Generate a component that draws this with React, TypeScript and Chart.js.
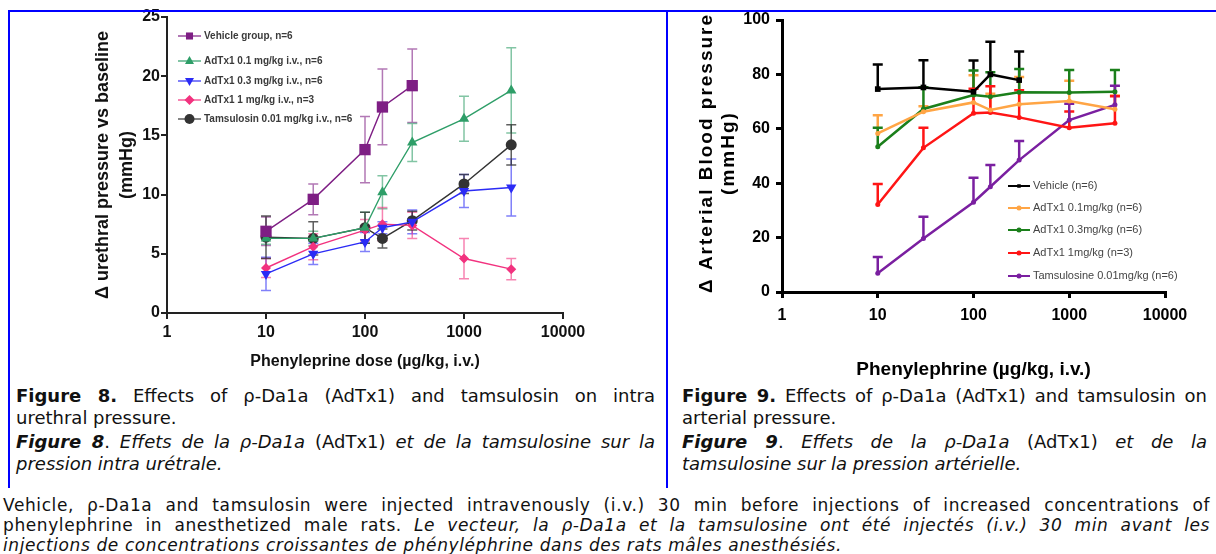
import React, { useEffect, useRef } from "react";
import { Chart, registerables } from "chart.js";
Chart.register(...registerables);

const FONT = "'Liberation Sans', Arial, Helvetica, sans-serif";
const TEXT_FONT = "'DejaVu Sans', Verdana, sans-serif";

// ---------- shared x data ----------
const doses = [10, 30, 100, 150, 300, 1000, 3000];
const xTickValues = [1, 10, 100, 1000, 10000];

// ---------- Figure 8 (urethral pressure) ----------
const fig8YTicks = [0, 5, 10, 15, 20, 25];
const fig8Labels = [
  "Vehicle group, n=6",
  "AdTx1 0.1 mg/kg i.v., n=6",
  "AdTx1 0.3 mg/kg i.v., n=6",
  "AdTx1 1 mg/kg i.v., n=3",
  "Tamsulosin 0.01 mg/kg i.v., n=6",
];
const fig8Vehicle = [6.9, 9.6, 13.8, 17.4, 19.2];
const fig8VehicleErr = [1.2, 1.3, 2.8, 3.2, 3.1];
const fig8AdTx01 = [6.3, 6.3, 7.2, 10.2, 14.4, 16.4, 18.8];
const fig8AdTx01Err = [0.5, 0.6, 1.3, 1.4, 1.6, 1.9, 3.6];
const fig8AdTx03 = [3.3, 5.0, 6.0, 7.2, 7.7, 10.3, 10.6];
const fig8AdTx03Err = [1.4, 0.9, 0.8, 0.5, 1.0, 1.4, 2.4];
const fig8AdTx1 = [3.8, 5.6, 7.0, 7.5, 7.4, 4.6, 3.7];
const fig8AdTx1Err = [0.8, 1.1, 0.9, 1.4, 1.1, 1.7, 0.9];
const fig8Tams = [6.4, 6.3, 7.2, 6.3, 7.8, 10.9, 14.2];
const fig8TamsErr = [1.8, 1.4, 1.3, 0.8, 0.8, 0.8, 1.7];
const fig8XTitle = "Phenyleprine dose (µg/kg, i.v.)";
const fig8YTitle = ["Δ urethral pressure vs baseline", "(mmHg)"];

// ---------- Figure 9 (arterial pressure) ----------
const fig9YTicks = [0, 20, 40, 60, 80, 100];
const fig9Labels = [
  "Vehicle (n=6)",
  "AdTx1 0.1mg/kg (n=6)",
  "AdTx1 0.3mg/kg (n=6)",
  "AdTx1 1mg/kg (n=3)",
  "Tamsulosine 0.01mg/kg (n=6)",
];
const fig9Vehicle = [74.6, 75.2, 73.6, 80.0, 77.9];
const fig9VehicleErr = [9, 10, 11.5, 12, 10.5];
const fig9AdTx01 = [58.3, 66.3, 69.7, 66.9, 69.0, 70.2, 67.2];
const fig9AdTx01Err = [6.7, 2, 10, 6, 10, 7.5, 5];
const fig9AdTx03 = [53.4, 67.3, 72.4, 71.8, 73.4, 73.3, 73.6];
const fig9AdTx03Err = [7, 8, 9, 9, 8.6, 8.3, 8];
const fig9AdTx1 = [32.2, 53.0, 65.7, 66.0, 64.2, 60.4, 62.0];
const fig9AdTx1Err = [7.5, 7.4, 9, 9.6, 10, 6, 10];
const fig9Tams = [6.9, 19.7, 33.0, 38.7, 48.5, 63.2, 68.8];
const fig9TamsErr = [6, 8, 9, 8, 7, 6, 7];
const fig9XTitle = "Phenylephrine (µg/kg, i.v.)";
const fig9YTitle = ["Δ Arterial Blood pressure", "(mmHg)"];

// ---------- helpers ----------
function drawMarker(ctx: CanvasRenderingContext2D, style: string, x: number, y: number, r: number, color: string) {
  ctx.save();
  ctx.fillStyle = color;
  ctx.beginPath();
  if (style === "rect") {
    const s = r * Math.SQRT1_2;
    ctx.rect(x - s, y - s, 2 * s, 2 * s);
  } else if (style === "triangle" || style === "triangleDown") {
    const d = style === "triangle" ? 1 : -1;
    ctx.moveTo(x, y - d * r);
    ctx.lineTo(x + r * 0.9, y + d * r * 0.6);
    ctx.lineTo(x - r * 0.9, y + d * r * 0.6);
    ctx.closePath();
  } else if (style === "rectRot") {
    ctx.moveTo(x, y - r);
    ctx.lineTo(x + r, y);
    ctx.lineTo(x, y + r);
    ctx.lineTo(x - r, y);
    ctx.closePath();
  } else {
    ctx.arc(x, y, r, 0, Math.PI * 2);
  }
  ctx.fill();
  ctx.restore();
}

function makeDataset(opts: any) {
  const { label, ys, errs, color, errColor, pointStyle, radius, rotation, lineWidth, errWidth, capHalf, oneSided, legendMarker } = opts;
  return {
    label,
    data: ys.map((v: number, i: number) => ({ x: doses[i], y: v })),
    borderColor: color,
    backgroundColor: color,
    pointBackgroundColor: color,
    pointBorderColor: color,
    pointBorderWidth: 0,
    borderWidth: lineWidth,
    pointStyle,
    pointRadius: radius,
    pointRotation: rotation || 0,
    tension: 0,
    fill: false,
    errors: errs,
    errColor,
    errWidth,
    capHalf,
    oneSided,
    legendMarker,
  };
}

const errorBarPlugin = {
  id: "errorBars",
  beforeDatasetsDraw(chart: any) {
    const ctx = chart.ctx;
    const xS = chart.scales.x;
    const yS = chart.scales.y;
    chart.data.datasets.forEach((ds: any) => {
      if (!ds.errors) return;
      ctx.save();
      ctx.strokeStyle = ds.errColor;
      ctx.lineWidth = ds.errWidth;
      ds.data.forEach((p: any, j: number) => {
        const e = ds.errors[j];
        if (e == null) return;
        const x = xS.getPixelForValue(p.x);
        const yTop = yS.getPixelForValue(p.y + e);
        const yBot = yS.getPixelForValue(ds.oneSided ? p.y : p.y - e);
        ctx.beginPath();
        ctx.moveTo(x, yTop);
        ctx.lineTo(x, yBot);
        ctx.moveTo(x - ds.capHalf, yTop);
        ctx.lineTo(x + ds.capHalf, yTop);
        if (!ds.oneSided) {
          ctx.moveTo(x - ds.capHalf, yBot);
          ctx.lineTo(x + ds.capHalf, yBot);
        }
        ctx.stroke();
      });
      ctx.restore();
    });
  },
};

function insideLegend(cfg: any) {
  return {
    id: "insideLegend",
    afterDraw(chart: any) {
      const { ctx, chartArea } = chart;
      ctx.save();
      chart.data.datasets.forEach((ds: any, i: number) => {
        const y = chartArea.top + cfg.rows[i];
        const x0 = chartArea.left + cfg.lineStart;
        const x1 = chartArea.left + cfg.lineEnd;
        ctx.strokeStyle = ds.borderColor;
        ctx.lineWidth = cfg.lineWidth;
        ctx.beginPath();
        ctx.moveTo(x0, y);
        ctx.lineTo(x1, y);
        ctx.stroke();
        drawMarker(ctx, ds.legendMarker, (x0 + x1) / 2, y, cfg.markerSize, ds.borderColor);
        ctx.fillStyle = cfg.textColor;
        ctx.font = cfg.font;
        ctx.textBaseline = "middle";
        ctx.textAlign = "left";
        ctx.fillText(ds.label, chartArea.left + cfg.textX, y);
      });
      ctx.restore();
    },
  };
}

const spacedYTitle = {
  id: "spacedYTitle",
  afterDraw(chart: any) {
    const { ctx, chartArea } = chart;
    ctx.save();
    ctx.translate(40, (chartArea.top + chartArea.bottom) / 2 - 3);
    ctx.rotate(-Math.PI / 2);
    ctx.font = `bold 19px ${FONT}`;
    (ctx as any).letterSpacing = "2px";
    ctx.fillStyle = "#000";
    ctx.textAlign = "center";
    ctx.textBaseline = "middle";
    ctx.fillText(fig9YTitle[0], 0, 0);
    ctx.fillText(fig9YTitle[1], 0, 22);
    ctx.restore();
  },
};

function fixedTicks(values: number[]) {
  return (scale: any) => {
    scale.ticks = values.map((v) => ({ value: v }));
  };
}

// ---------- chart builders ----------
function makeFig8(canvas: HTMLCanvasElement) {
  const lw = 1.4;
  const datasets = [
    makeDataset({ label: fig8Labels[0], ys: fig8Vehicle, errs: fig8VehicleErr, color: "#7E1E84", errColor: "rgba(126,30,132,0.6)", pointStyle: "rect", radius: 8, lineWidth: lw, errWidth: 1.5, capHalf: 5, legendMarker: "rect" }),
    makeDataset({ label: fig8Labels[1], ys: fig8AdTx01, errs: fig8AdTx01Err, color: "#2E9E68", errColor: "rgba(46,158,104,0.6)", pointStyle: "triangle", radius: 6, lineWidth: lw, errWidth: 1.5, capHalf: 5, legendMarker: "triangle" }),
    makeDataset({ label: fig8Labels[2], ys: fig8AdTx03, errs: fig8AdTx03Err, color: "#2B2BF5", errColor: "rgba(43,43,245,0.6)", pointStyle: "triangle", rotation: 180, radius: 6, lineWidth: lw, errWidth: 1.5, capHalf: 5, legendMarker: "triangleDown" }),
    makeDataset({ label: fig8Labels[3], ys: fig8AdTx1, errs: fig8AdTx1Err, color: "#F2327F", errColor: "rgba(242,50,127,0.6)", pointStyle: "rectRot", radius: 5, lineWidth: lw, errWidth: 1.5, capHalf: 5, legendMarker: "rectRot" }),
    makeDataset({ label: fig8Labels[4], ys: fig8Tams, errs: fig8TamsErr, color: "#333333", errColor: "rgba(40,40,40,0.75)", pointStyle: "circle", radius: 5.5, lineWidth: lw, errWidth: 1.5, capHalf: 5, legendMarker: "circle" }),
  ];
  return new Chart(canvas, {
    type: "line",
    data: { datasets } as any,
    options: {
      animation: false,
      responsive: false,
      layout: { padding: { left: 0, top: 17, right: 102, bottom: 0 } },
      plugins: { legend: { display: false }, tooltip: { enabled: false } },
      scales: {
        x: {
          type: "logarithmic",
          min: 1,
          max: 10000,
          afterBuildTicks: fixedTicks(xTickValues),
          afterFit: (s: any) => { s.height = 72; },
          ticks: { autoSkip: false, maxRotation: 0, minRotation: 0, padding: 4, color: "#111", font: { family: FONT, size: 16, weight: "bold" }, callback: (v: any) => String(v) },
          grid: { display: true, drawOnChartArea: false, drawTicks: true, tickLength: 6, color: "#222", lineWidth: 2 },
          border: { display: true, color: "#222", width: 2 },
          title: { display: true, text: fig8XTitle, color: "#111", font: { family: FONT, size: 16, weight: "bold" }, padding: { top: 0, bottom: 14 } },
        },
        y: {
          type: "linear",
          min: 0,
          max: 25,
          afterBuildTicks: fixedTicks(fig8YTicks),
          afterFit: (s: any) => { s.width = 167; },
          ticks: { padding: 1, color: "#111", font: { family: FONT, size: 16, weight: "bold" } },
          grid: { display: true, drawOnChartArea: false, drawTicks: true, tickLength: 6, color: "#222", lineWidth: 2 },
          border: { display: true, color: "#222", width: 2 },
          title: { display: true, text: fig8YTitle, color: "#111", font: { family: FONT, size: 18, weight: "bold", lineHeight: 1.3333 }, padding: { top: 91, bottom: 0 } },
        },
      },
    } as any,
    plugins: [
      errorBarPlugin,
      insideLegend({ rows: [19, 44, 64, 83, 102], lineStart: 11, lineEnd: 34, textX: 37, markerSize: 5, font: `bold 10px ${FONT}`, textColor: "#3a3a3a", lineWidth: 1.2 }),
    ] as any,
  });
}

function makeFig9(canvas: HTMLCanvasElement) {
  const lw = 2.5;
  const datasets = [
    makeDataset({ label: fig9Labels[0], ys: fig9Vehicle, errs: fig9VehicleErr, color: "#000000", errColor: "#000000", pointStyle: "rect", radius: 4, lineWidth: lw, errWidth: 2.5, capHalf: 5, oneSided: true, legendMarker: "rect" }),
    makeDataset({ label: fig9Labels[1], ys: fig9AdTx01, errs: fig9AdTx01Err, color: "#FFA545", errColor: "#FFA545", pointStyle: "circle", radius: 2.5, lineWidth: lw, errWidth: 2.5, capHalf: 5, oneSided: true, legendMarker: "circle" }),
    makeDataset({ label: fig9Labels[2], ys: fig9AdTx03, errs: fig9AdTx03Err, color: "#1B7F1B", errColor: "#1B7F1B", pointStyle: "circle", radius: 2.5, lineWidth: lw, errWidth: 2.5, capHalf: 5, oneSided: true, legendMarker: "circle" }),
    makeDataset({ label: fig9Labels[3], ys: fig9AdTx1, errs: fig9AdTx1Err, color: "#FF1515", errColor: "#FF1515", pointStyle: "circle", radius: 2.5, lineWidth: lw, errWidth: 2.5, capHalf: 5, oneSided: true, legendMarker: "circle" }),
    makeDataset({ label: fig9Labels[4], ys: fig9Tams, errs: fig9TamsErr, color: "#7A1FA0", errColor: "#7A1FA0", pointStyle: "circle", radius: 2.5, lineWidth: lw, errWidth: 2.5, capHalf: 5, oneSided: true, legendMarker: "circle" }),
  ];
  return new Chart(canvas, {
    type: "line",
    data: { datasets } as any,
    options: {
      animation: false,
      responsive: false,
      layout: { padding: { left: 0, top: 20, right: 51, bottom: 0 } },
      plugins: { legend: { display: false }, tooltip: { enabled: false } },
      scales: {
        x: {
          type: "logarithmic",
          min: 1,
          max: 10000,
          afterBuildTicks: fixedTicks(xTickValues),
          afterFit: (s: any) => { s.height = 93; },
          ticks: { autoSkip: false, maxRotation: 0, minRotation: 0, padding: 8, color: "#000", font: { family: FONT, size: 16, weight: "bold" }, callback: (v: any) => String(v) },
          grid: { display: true, drawOnChartArea: false, drawTicks: true, tickLength: 6, color: "#000", lineWidth: 3 },
          border: { display: true, color: "#000", width: 3 },
          title: { display: true, text: fig9XTitle, color: "#000", font: { family: FONT, size: 19, weight: "bold" }, padding: { top: 0, bottom: 4 } },
        },
        y: {
          type: "linear",
          min: 0,
          max: 100,
          afterBuildTicks: fixedTicks(fig9YTicks),
          afterFit: (s: any) => { s.width = 115; },
          ticks: { padding: 6, color: "#000", font: { family: FONT, size: 16, weight: "bold" } },
          grid: { display: true, drawOnChartArea: false, drawTicks: true, tickLength: 6, color: "#000", lineWidth: 3 },
          border: { display: true, color: "#000", width: 3 },
          title: { display: false },
        },
      },
    } as any,
    plugins: [
      errorBarPlugin,
      spacedYTitle,
      insideLegend({ rows: [166, 188, 210, 233, 256], lineStart: 226, lineEnd: 248, textX: 251, markerSize: 2.5, font: `11px ${FONT}`, textColor: "#444", lineWidth: 2 }),
    ] as any,
  });
}

function ChartCanvas({ make, left, top, width, height }: any) {
  const ref = useRef<HTMLCanvasElement | null>(null);
  useEffect(() => {
    const chart = make(ref.current);
    return () => chart.destroy();
  }, []);
  return (
    <canvas
      ref={ref}
      width={width}
      height={height}
      style={{ position: "absolute", left, top, width, height, display: "block" }}
    />
  );
}

function Line({ justify, h, children }: any) {
  return (
    <div
      style={{
        whiteSpace: "nowrap",
        textAlign: justify ? "justify" : "left",
        textAlignLast: justify ? "justify" : "left",
        height: h,
        lineHeight: h + "px",
      } as any}
    >
      {children}
    </div>
  );
}

export default function App() {
  const capStyle: any = { position: "absolute", fontFamily: TEXT_FONT, fontSize: 18, color: "#111" };
  return (
    <div style={{ position: "absolute", left: 0, top: 0, width: 1216, height: 554, background: "#fff", overflow: "hidden" }}>
      <ChartCanvas make={makeFig8} left={0} top={0} width={665} height={385} />
      <ChartCanvas make={makeFig9} left={667} top={0} width={549} height={385} />

      {/* frame lines */}
      <div style={{ position: "absolute", left: 8, top: 10, width: 1208, height: 2, background: "#0000FF" }} />
      <div style={{ position: "absolute", left: 8, top: 10, width: 2, height: 478, background: "#0000FF" }} />
      <div style={{ position: "absolute", left: 666, top: 10, width: 2, height: 478, background: "#0000FF" }} />

      {/* Figure 8 caption */}
      <div style={{ ...capStyle, left: 16, top: 385, width: 639 }}>
        <Line justify h={22}><b>Figure 8.</b> Effects of ρ-Da1a (AdTx1) and tamsulosin on intra</Line>
        <Line h={22}>urethral pressure.</Line>
        <div style={{ height: 2 }} />
        <Line justify h={22}><b><i>Figure 8</i></b>. <i>Effets de la ρ-Da1a</i> (AdTx1) <i>et de la tamsulosine sur la</i></Line>
        <Line h={22}><i>pression intra urétrale.</i></Line>
      </div>

      {/* Figure 9 caption */}
      <div style={{ ...capStyle, left: 682, top: 385, width: 525 }}>
        <Line justify h={22}><b>Figure 9.</b> Effects of ρ-Da1a (AdTx1) and tamsulosin on</Line>
        <Line h={22}>arterial pressure.</Line>
        <div style={{ height: 2 }} />
        <Line justify h={22}><b><i>Figure 9</i></b>. <i>Effets de la ρ-Da1a</i> (AdTx1) <i>et de la</i></Line>
        <Line h={22}><i>tamsulosine sur la pression artérielle.</i></Line>
      </div>

      {/* bottom paragraph */}
      <div style={{ ...capStyle, fontSize: 17, letterSpacing: "0.6px", left: 3, top: 495, width: 1207 }}>
        <Line justify h={20}>Vehicle, ρ-Da1a and tamsulosin were injected intravenously (i.v.) 30 min before injections of increased concentrations of</Line>
        <Line justify h={20}>phenylephrine in anesthetized male rats. <i>Le vecteur, la ρ-Da1a et la tamsulosine ont été injectés (i.v.) 30 min avant les</i></Line>
        <Line h={20}><i>injections de concentrations croissantes de phényléphrine dans des rats mâles anesthésiés.</i></Line>
      </div>
    </div>
  );
}
